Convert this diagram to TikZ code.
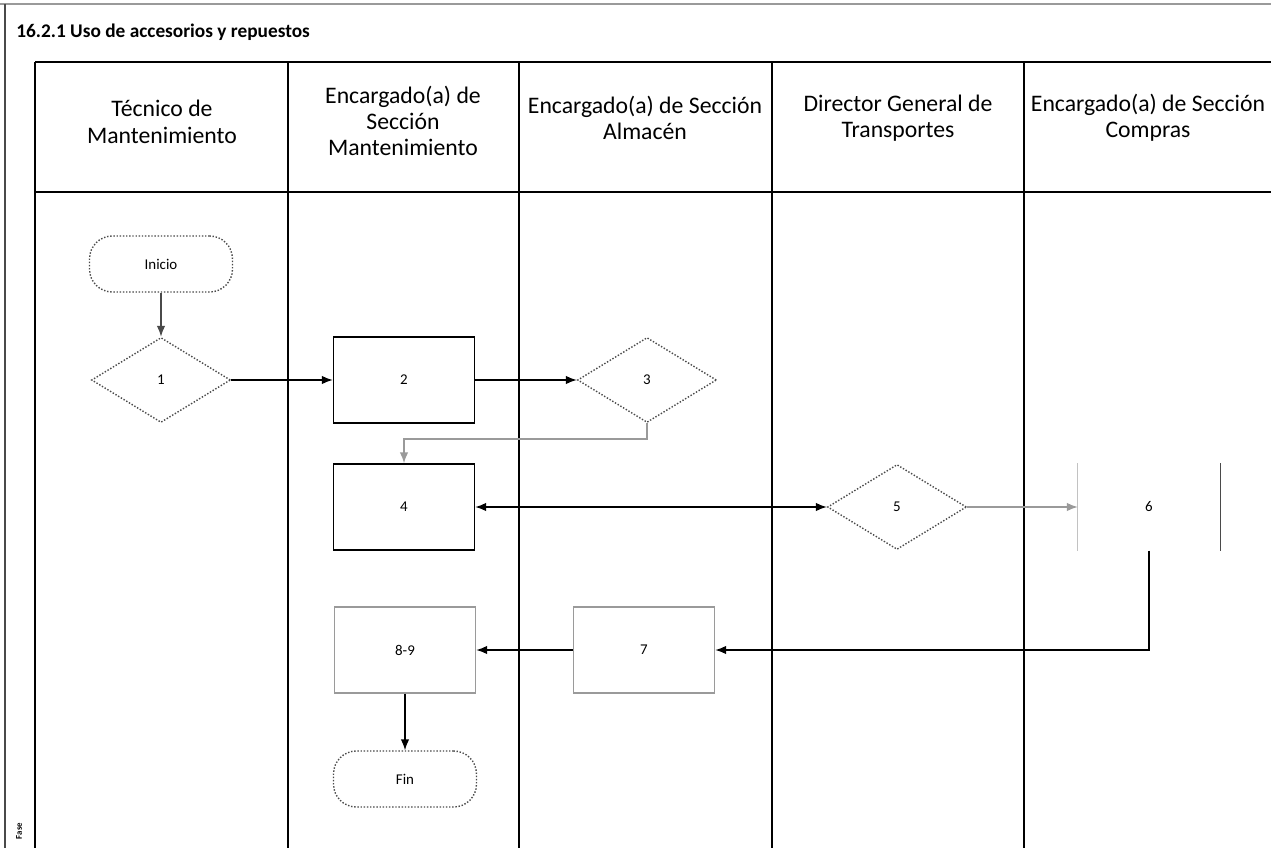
\documentclass[tikz,border=0pt]{standalone}
\usepackage{fontspec}
\setmainfont{Carlito}
\usetikzlibrary{positioning,arrows.meta,shapes.geometric}
\definecolor{framegray}{HTML}{4A4A4A}
\definecolor{softgray}{HTML}{9A9A9A}
\tikzset{
    every node/.style={font=\fontsize{8.5}{10}\selectfont},
    lanehead/.style={align=center,font=\fontsize{13.5}{15}\selectfont,inner sep=0pt},
    terminal/.style={rectangle,rounded corners=13pt,draw=framegray,densely dotted,thick,minimum width=2.86cm,minimum height=1.12cm},
    task/.style={rectangle,draw,thick,minimum width=2.82cm,minimum height=1.72cm},
    decision/.style={diamond,draw=framegray,densely dotted,thick,minimum width=2.78cm,minimum height=1.7cm,inner sep=0pt},
    flow/.style={draw,thick,-{Latex[length=2.2mm,width=1.7mm]}},
    lane/.style={draw,line width=1.1pt}
}
\begin{document}
\begin{tikzpicture}[x=0.02cm,y=-0.02cm]
    \useasboundingbox (0,0) rectangle (1271,848);
    % frame and lanes
    \draw[softgray,thick] (0,4) -- (1271,4);
    \draw[framegray,thick] (5,4) -- (5,848);
    \node[anchor=base west,inner sep=0pt,font=\bfseries\fontsize{11}{13}\selectfont] (title) at (16,38) {16.2.1 Uso de accesorios y repuestos};
    \draw[lane] (35,62) -- (1271,62);
    \draw[lane] (35,192) -- (1271,192);
    \foreach \x in {35,288,519,772,1024}
        \draw[lane] (\x,62) -- (\x,848);
    \node[rotate=90,inner sep=0pt,font=\bfseries\fontsize{5}{6}\selectfont] (fase) at (19,831) {Fase};
    % lane heads
    \node[lanehead] (h1) at (162,122) {Técnico de\\Mantenimiento};
    \node[lanehead] (h2) at (403,121) {Encargado(a) de\\Sección\\Mantenimiento};
    \node[lanehead] (h3) at (645,118) {Encargado(a) de Sección\\Almacén};
    \node[lanehead] (h4) at (898,118) {Director General de\\Transportes};
    \node[lanehead] (h5) at (1148,118) {Encargado(a) de Sección\\Compras};
    % steps
    \node[terminal] (inicio) at (161,264) {Inicio};
    \node[decision] (d1) at (161,380) {1};
    \node[task] (t2) at (404,380) {2};
    \node[decision] (d3) at (647,380) {3};
    \node[task] (t4) at (404,507) {4};
    \node[decision] (d5) at (897,507) {5};
    \node[task,draw=none] (t6) at (1149,507) {6};
    \draw[softgray!60] (t6.north west) -- (t6.south west);
    \draw[framegray,thick] (t6.north east) -- (t6.south east);
    \node[task,draw=softgray] (t7) at (644,650) {7};
    \node[task,draw=softgray] (t89) at (405,650) {8-9};
    \node[terminal] (fin) at (405,779) {Fin};
    % connectors
    \draw[flow,framegray] (inicio) -- (d1);
    \draw[flow] (d1) -- (t2);
    \draw[flow] (t2) -- (d3);
    \draw[flow,softgray] (d3.south) -- ++(0,16) -| (t4.north);
    \draw[flow,{Latex[length=2.2mm,width=1.7mm]}-{Latex[length=2.2mm,width=1.7mm]}] (t4) -- (d5);
    \draw[flow,softgray] (d5) -- (t6.west);
    \draw[flow] (t6.south) |- (t7.east);
    \draw[flow] (t7) -- (t89);
    \draw[flow] (t89) -- (fin);
\end{tikzpicture}
\end{document}
